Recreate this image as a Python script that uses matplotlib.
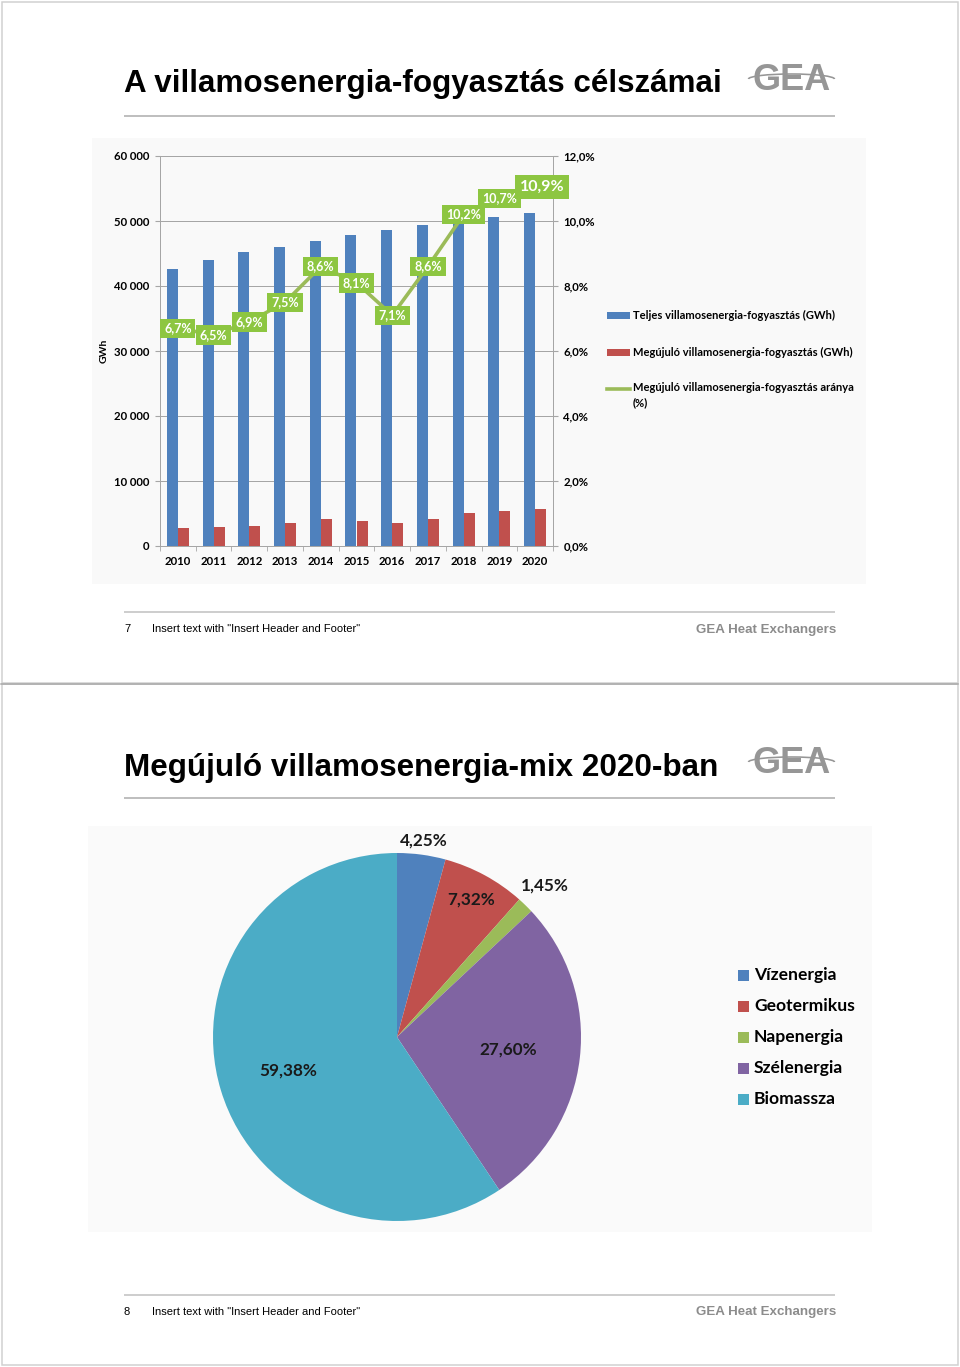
import numpy as np
import matplotlib
matplotlib.use('Agg')
import matplotlib.pyplot as plt
from matplotlib.patches import Rectangle, Arc

# ---------------- data ----------------
years = ['2010', '2011', '2012', '2013', '2014', '2015', '2016', '2017', '2018', '2019', '2020']
total_gwh = [42650, 43930, 45210, 46030, 46950, 47770, 48590, 49360, 50000, 50640, 51250]
renew_gwh = [2820, 2870, 3120, 3480, 4150, 3890, 3480, 4200, 5070, 5430, 5630]
renew_share = [6.7, 6.5, 6.9, 7.5, 8.6, 8.1, 7.1, 8.6, 10.2, 10.7, 10.9]
share_labels = ['6,7%', '6,5%', '6,9%', '7,5%', '8,6%', '8,1%', '7,1%', '8,6%', '10,2%', '10,7%', '10,9%']
left_ticks = [0, 10000, 20000, 30000, 40000, 50000, 60000]
left_tick_labels = ['0', '10 000', '20 000', '30 000', '40 000', '50 000', '60 000']
right_ticks = [0, 2, 4, 6, 8, 10, 12]
right_tick_labels = ['0,0%', '2,0%', '4,0%', '6,0%', '8,0%', '10,0%', '12,0%']
bar_series = ['Teljes villamosenergia-fogyasztás (GWh)',
              'Megújuló villamosenergia-fogyasztás (GWh)',
              'Megújuló villamosenergia-fogyasztás aránya\n(%)']

pie_categories = ['Vízenergia', 'Geotermikus', 'Napenergia', 'Szélenergia', 'Biomassza']
pie_values = [4.25, 7.32, 1.45, 27.60, 59.38]
pie_value_labels = ['4,25%', '7,32%', '1,45%', '27,60%', '59,38%']

title1 = 'A villamosenergia-fogyasztás célszámai'
title2 = 'Megújuló villamosenergia-mix 2020-ban'
footer_text = 'Insert text with "Insert Header and Footer"'
footer_brand = 'GEA Heat Exchangers'

# ---------------- styles ----------------
W, H = 960, 1367
C_BLUE, C_RED, C_GREEN, C_PURPLE, C_CYAN = '#4F81BD', '#C0504D', '#9BBB59', '#8064A2', '#4BACC6'
LBL_GREEN = '#8DC641'
CHART_FONT = ['Lato', 'DejaVu Sans']
ARIAL = ['Liberation Sans', 'DejaVu Sans']
NARROW = ['Liberation Sans Narrow', 'Liberation Sans', 'DejaVu Sans']
PX = 0.72  # points per pixel

fig = plt.figure(figsize=(W / 100, H / 100), dpi=100)
fig.patch.set_facecolor('white')

bg = fig.add_axes([0, 0, 1, 1], zorder=0)
bg.set_xlim(0, W)
bg.set_ylim(H, 0)
bg.axis('off')


def px_axes(x0, y0, x1, y1, **kw):
    return fig.add_axes([x0 / W, 1 - y1 / H, (x1 - x0) / W, (y1 - y0) / H], **kw)


# slide frames
for (y0, y1) in [(1.5, 683), (684, 1365)]:
    bg.add_patch(Rectangle((1.5, y0), 956, y1 - y0, fill=False, ec='#D0D0D0', lw=1.5 * PX))
bg.plot([1, 958], [683.5, 683.5], color='#A8A8A8', lw=1.5 * PX)

# chart backgrounds
bg.add_patch(Rectangle((92, 138), 774, 446, fc='#F9F9F9', ec='none'))
bg.add_patch(Rectangle((88, 826), 784, 406, fc='#FAFAFA', ec='none'))


def slide_header(title, baseline, line_y, logo_y):
    bg.text(124, baseline, title, family=ARIAL, weight='bold', fontsize=22.6,
            ha='left', va='baseline', color='black')
    bg.plot([124, 835], [line_y, line_y], color='#BFBFBF', lw=2 * PX, solid_capstyle='butt')
    # GEA logo
    bg.text(791.5, logo_y + 12, 'GEA', family=ARIAL, weight='bold', fontsize=26,
            ha='center', va='baseline', color='#969696')
    bg.add_patch(Arc((791.5, logo_y + 1), 86, 10, theta1=0, theta2=360, color='white', lw=3 * PX))
    bg.add_patch(Arc((791.5, logo_y + 1), 86, 10, theta1=180, theta2=360, color='#969696', lw=1.6 * PX))


def slide_footer(num, y, line_y):
    bg.plot([124, 835], [line_y, line_y], color='#BFBFBF', lw=1.5 * PX, solid_capstyle='butt')
    bg.text(124, y + 1, num, family=NARROW, fontsize=8, ha='left', va='center', color='black')
    bg.text(152, y + 1, footer_text, family=NARROW, fontsize=8, ha='left', va='center', color='black')
    bg.text(836, y + 1.5, footer_brand, family=ARIAL, weight='bold', fontsize=9.6,
            ha='right', va='center', color='#8C8C8C')


slide_header(title1, 92, 116, 78)
slide_footer('7', 628, 611.5)
slide_header(title2, 776, 798, 761)
slide_footer('8', 1311, 1294.5)

# ---------------- bar + line chart ----------------
ax = px_axes(160, 156, 553, 546, zorder=2)
ax.patch.set_visible(False)
x = np.arange(len(years))
bw = 0.31
ax.bar(x - bw / 2, total_gwh, bw, color=C_BLUE, zorder=2)
ax.bar(x + bw / 2, renew_gwh, bw, color=C_RED, zorder=2)
ax.set_xlim(-0.5, len(years) - 0.5)
ax.set_ylim(0, 60000)
ax.set_yticks(left_ticks)
ax.set_yticklabels(left_tick_labels)
ax.yaxis.grid(True, color='#A6A6A6', lw=1 * PX)
ax.set_axisbelow(True)
ax.set_xticks(x)
ax.set_xticklabels(years)
ax.set_xticks(np.arange(-0.5, len(years)), minor=True)
ax.tick_params(axis='x', which='major', length=0, pad=7.5)
ax.tick_params(axis='x', which='minor', length=3.5, color='#A6A6A6', direction='out')
ax.tick_params(axis='y', length=3.5, color='#A6A6A6', pad=4)
for lab in ax.get_xticklabels() + ax.get_yticklabels():
    lab.set_family(CHART_FONT)
    lab.set_weight('bold')
    lab.set_fontsize(8.2)
for s in ['top']:
    ax.spines[s].set_visible(False)
for s in ['left', 'right', 'bottom']:
    ax.spines[s].set_color('#A6A6A6')
    ax.spines[s].set_linewidth(1 * PX)

ax2 = ax.twinx()
ax2.set_zorder(3)
ax2.patch.set_visible(False)
ax2.plot(x, renew_share, color=C_GREEN, lw=2.6, zorder=3)
ax2.set_ylim(0, 12)
ax2.set_yticks(right_ticks)
ax2.set_yticklabels(right_tick_labels)
ax2.tick_params(axis='y', length=3.5, color='#A6A6A6', pad=4)
for lab in ax2.get_yticklabels():
    lab.set_family(CHART_FONT)
    lab.set_weight('bold')
    lab.set_fontsize(8.2)
for s in ['top', 'left', 'bottom']:
    ax2.spines[s].set_visible(False)
ax2.spines['right'].set_color('#A6A6A6')
ax2.spines['right'].set_linewidth(1 * PX)
for i, (v, lab) in enumerate(zip(renew_share, share_labels)):
    big = (i == len(renew_share) - 1)
    ax2.text(x[i] + (0.2 if big else 0), v + (0.15 if big else 0), lab, ha='center', va='center',
             color='white', family=CHART_FONT, weight='bold', fontsize=11.5 if big else 9,
             bbox=dict(boxstyle='square,pad=0.3', fc=LBL_GREEN, ec='none'), zorder=4 + i)

bg.text(104, 351, 'GWh', family=CHART_FONT, weight='bold', fontsize=7.5,
        rotation=90, ha='center', va='center')

# legend (top chart)
leg_y = [315, 352, 389]
bg.add_patch(Rectangle((607, leg_y[0] - 3.5), 23, 7, fc=C_BLUE, ec='none'))
bg.add_patch(Rectangle((607, leg_y[1] - 3.5), 23, 7, fc=C_RED, ec='none'))
bg.plot([607, 630], [leg_y[2], leg_y[2]], color=C_GREEN, lw=2.6)
bg.text(633, leg_y[0], bar_series[0], family=CHART_FONT, weight='bold', fontsize=8, va='center', ha='left')
bg.text(633, leg_y[1], bar_series[1], family=CHART_FONT, weight='bold', fontsize=8, va='center', ha='left')
bg.text(633, leg_y[2] - 7, bar_series[2], family=CHART_FONT, weight='bold', fontsize=8, va='top', ha='left',
        linespacing=1.45)

# ---------------- pie chart ----------------
pax = px_axes(213, 853, 581, 1221, zorder=2)
pie_colors = [C_BLUE, C_RED, C_GREEN, C_PURPLE, C_CYAN]
pax.pie(pie_values, colors=pie_colors, startangle=90, counterclock=False, radius=1,
        wedgeprops=dict(linewidth=0))
pax.set_xlim(-1, 1)
pax.set_ylim(-1, 1)
pax.set_aspect('equal')
pax.axis('off')
label_r = [1.075, 0.85, 1.15, 0.61, 0.62]
total = sum(pie_values)
cum = 0.0
for v, lab, r in zip(pie_values, pie_value_labels, label_r):
    mid = (cum + v / 2) / total * 2 * np.pi
    cum += v
    px_, py_ = r * np.sin(mid), r * np.cos(mid)
    pax.text(px_, py_, lab, ha='center', va='center', family=CHART_FONT,
             weight='bold', fontsize=12.3, color='#1a1a1a', clip_on=False)

# legend (pie)
for i, (cat, col) in enumerate(zip(pie_categories, pie_colors)):
    yy = 975 + i * 31
    bg.add_patch(Rectangle((738, yy - 5.5), 11, 11, fc=col, ec='none'))
    bg.text(754, yy, cat, family=CHART_FONT, weight='bold', fontsize=12.6, va='center', ha='left')

fig.savefig('out.png', dpi=100)
